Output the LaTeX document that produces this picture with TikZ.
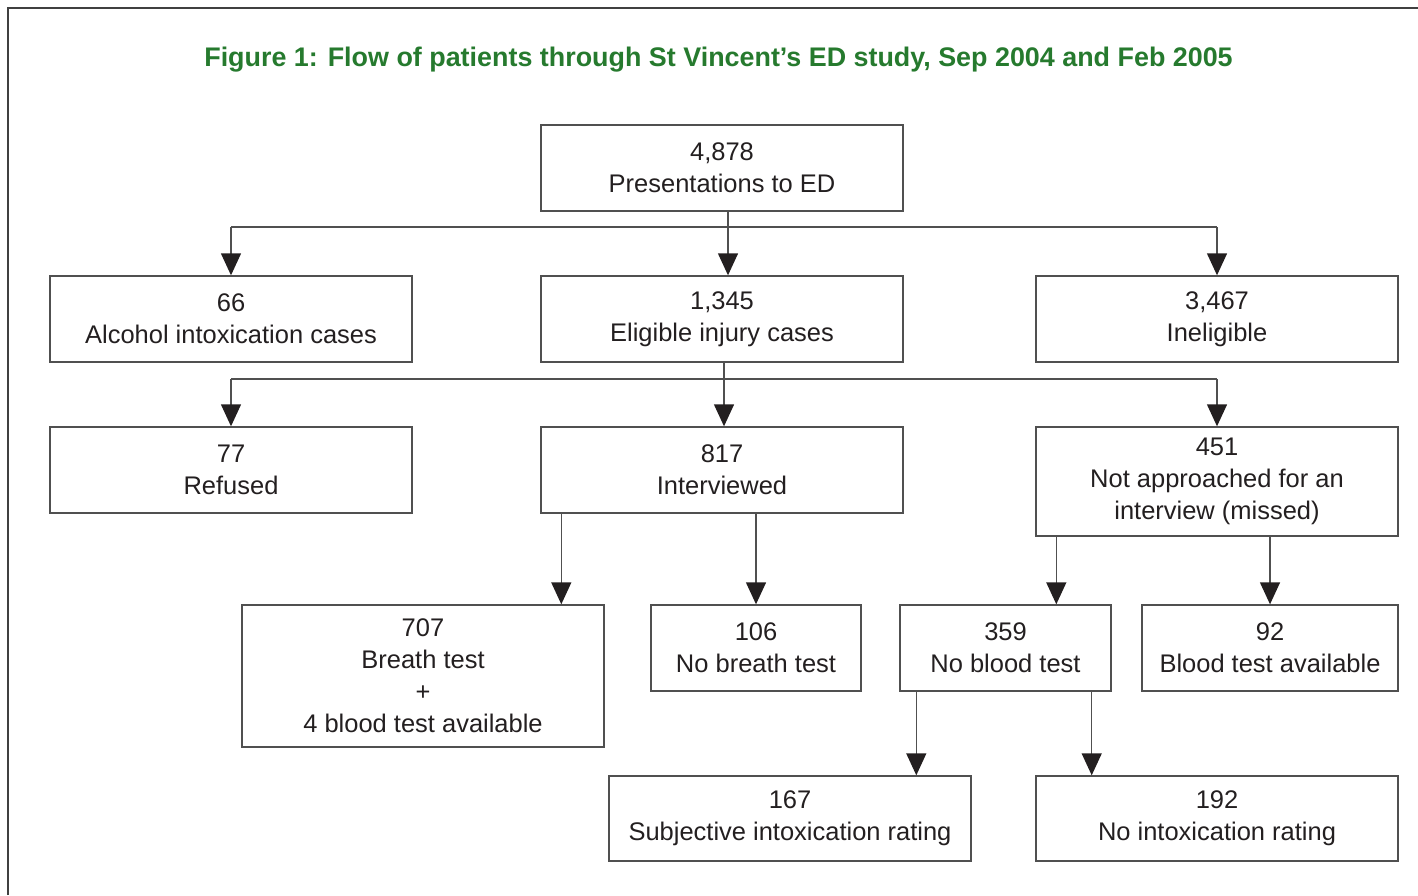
\documentclass[tikz,border=0pt]{standalone}
\usepackage{fontspec}
\setmainfont{Liberation Sans}
\usepackage{xcolor}
\usetikzlibrary{arrows.meta}
\definecolor{figgreen}{RGB}{38,122,46}
\definecolor{boxgray}{RGB}{80,80,80}
\definecolor{inkblack}{RGB}{35,31,32}

\begin{document}
\begin{tikzpicture}[font=\fontsize{7.25}{9.1}\selectfont, text=inkblack,
  box/.style={draw=boxgray, line width=0.4pt, align=center, inner sep=0pt, minimum height=0.86cm},
  widebox/.style={box, minimum width=3.62cm},
  link/.style={draw=boxgray, line width=0.4pt},
  arr/.style={link, -{Triangle[width=2mm, length=2.2mm, color=inkblack, fill=inkblack]}}]
  \useasboundingbox (0,0) rectangle (14.18,-8.95);
  \draw[black!75, line width=0.6pt] (0.08,-8.95) -- (0.08,-0.08) -- (14.18,-0.08);
  \node[text=figgreen, font=\fontsize{7.65}{9.1}\selectfont\bfseries] (title) at (7.185,-0.60)
    {Figure 1: Flow of patients through St Vincent’s ED study, Sep 2004 and Feb 2005};

  \node[widebox] (pres) at (7.22,-1.68) {4,878\\Presentations to ED};
  \node[widebox] (alc) at (2.31,-3.19) {66\\Alcohol intoxication cases};
  \node[widebox] (elig) at (7.22,-3.19) {1,345\\Eligible injury cases};
  \node[widebox] (inel) at (12.17,-3.19) {3,467\\Ineligible};
  \node[widebox] (ref) at (2.31,-4.70) {77\\Refused};
  \node[widebox] (intv) at (7.22,-4.70) {817\\Interviewed};
  \node[widebox, minimum height=1.09cm] (miss) at (12.17,-4.815) {451\\Not approached for an\\interview (missed)};
  \node[widebox, minimum height=1.42cm] (breath) at (4.23,-6.76) {707\\Breath test\\+\\4 blood test available};
  \node[box, minimum width=2.10cm] (nobreath) at (7.56,-6.48) {106\\No breath test};
  \node[box, minimum width=2.11cm] (noblood) at (10.055,-6.48) {359\\No blood test};
  \node[box, minimum width=2.56cm] (bloodav) at (12.70,-6.48) {92\\Blood test available};
  \node[widebox, minimum height=0.85cm] (subj) at (7.90,-8.185) {167\\Subjective intoxication rating};
  \node[widebox, minimum height=0.85cm] (norate) at (12.17,-8.185) {192\\No intoxication rating};

  \coordinate (split1) at (7.28,-2.27);
  \draw[link] (pres.south -| split1) -- (split1);
  \draw[link] (split1 -| alc) -- (split1 -| inel);
  \foreach \b in {alc, inel}
    \draw[arr] (split1 -| \b) -- (\b.north);
  \draw[arr] (split1) -- (split1 |- elig.north);

  \coordinate (split2) at (7.24,-3.79);
  \draw[link] (elig.south -| split2) -- (split2);
  \draw[link] (split2 -| ref) -- (split2 -| miss);
  \foreach \b in {ref, miss}
    \draw[arr] (split2 -| \b) -- (\b.north);
  \draw[arr] (split2) -- (split2 |- intv.north);

  \draw[arr] ([xshift=2.1mm]intv.south west) coordinate (t1) -- (t1 |- breath.north);
  \draw[arr] (intv.south -| nobreath) -- (nobreath.north);
  \draw[arr] ([xshift=2.1mm]miss.south west) coordinate (t2) -- (t2 |- noblood.north);
  \draw[arr] (miss.south -| bloodav) -- (bloodav.north);
  \draw[arr] ([xshift=1.7mm]noblood.south west) coordinate (t3) -- (t3 |- subj.north);
  \draw[arr] ([xshift=-2mm]noblood.south east) coordinate (t4) -- (t4 |- norate.north);
\end{tikzpicture}
\end{document}
